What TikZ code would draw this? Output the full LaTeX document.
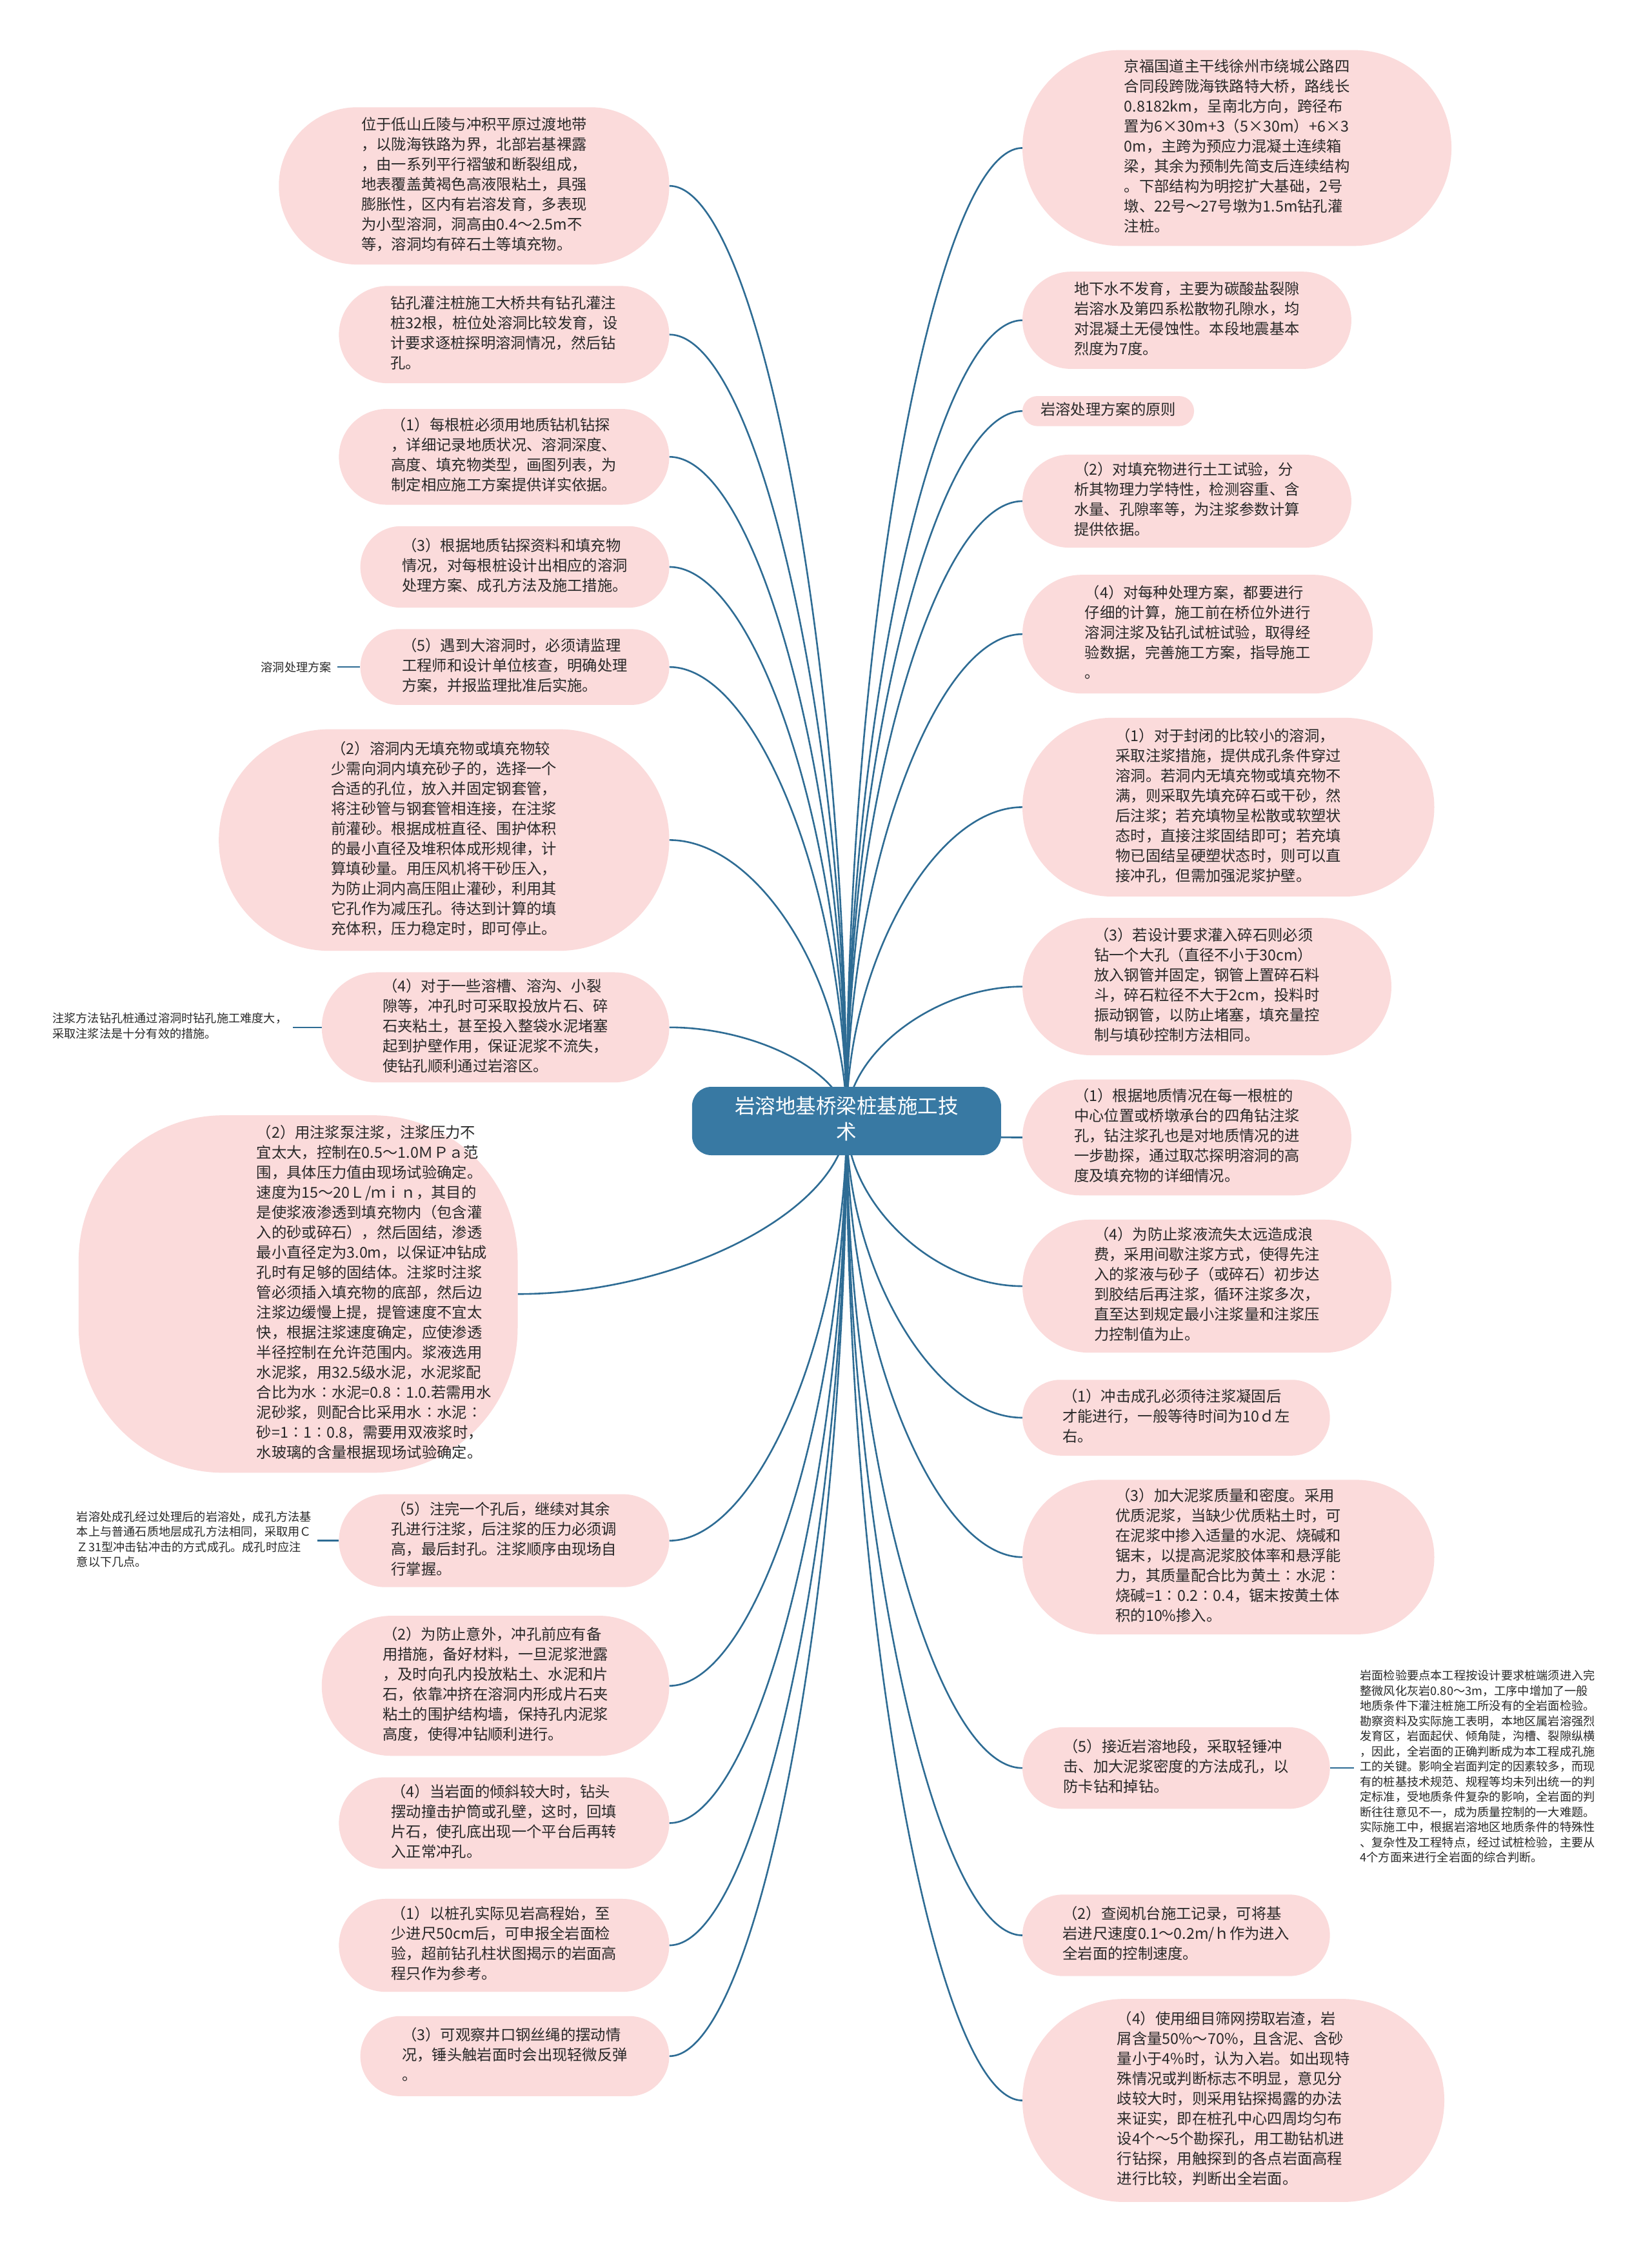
\documentclass[tikz,border=0pt]{standalone}
\usepackage{fontspec}
\setmainfont{Noto Sans CJK SC}
\usetikzlibrary{calc}
\pgfdeclarelayer{bg}
\pgfsetlayers{bg,main}
\definecolor{pinkfill}{RGB}{251,219,219}
\definecolor{linec}{RGB}{46,108,148}
\definecolor{ctrfill}{RGB}{56,121,163}
\definecolor{txt}{RGB}{40,40,40}
\newcommand\tb[1]{\begin{tabular}{@{}l@{}}#1\end{tabular}}
\newcommand\bub[7][0]{%
 \pgfmathsetmacro\ww{(#5-#3)*2.2165}%
 \pgfmathsetmacro\hh{(#6-#4)*2.2165}%
 \pgfmathsetmacro\rr{min(\hh/2-0.1,\ww*0.33)}%
 \pgfmathsetmacro\sh{2*#1*2.2165}%
 \node[bubble,minimum width=\ww pt,minimum height=\hh pt,rounded corners=\rr pt] (#2) at ({(#3+#5)/2},{(#4+#6)/2}) {\hspace*{\sh pt}\tb{#7}};}
\newcommand\cn[2]{\draw[conn] (ctr.center) .. controls ($(ctr.center)!0.5!(ctr.center |- #1.#2)$) and ($(ctr.center |- #1.#2)!0.5!(#1.#2)$) .. (#1.#2);}
\begin{document}
\begin{tikzpicture}[x=2.2165pt,y=-2.2165pt,
  bubble/.style={shape=rectangle,fill=pinkfill,draw=none,inner sep=0pt,font=\fontsize{23.3}{31}\selectfont,text=txt},
  lab/.style={inner sep=0pt,inner xsep=9pt,font=\fontsize{18.2}{23.5}\selectfont,text=txt},
  conn/.style={draw=linec,line width=2.6pt},
  ctrnode/.style={fill=ctrfill,text=white,rounded corners=30pt,inner sep=0pt,minimum width=479pt,minimum height=106pt,font=\fontsize{31.5}{40}\selectfont}]
\useasboundingbox (0,0) rectangle (1155,1568);
\node[ctrnode] (ctr) at (592,784) {\begin{tabular}{@{}c@{}}岩溶地基桥梁桩基施工技\\术\end{tabular}};
% left side
\bub{L1}{195}{75}{468}{185}{位于低山丘陵与冲积平原过渡地带\\，以陇海铁路为界，北部岩基裸露\\，由一系列平行褶皱和断裂组成，\\地表覆盖黄褐色高液限粘土，具强\\膨胀性，区内有岩溶发育，多表现\\为小型溶洞，洞高由0.4～2.5m不\\等，溶洞均有碎石土等填充物。}
\bub{L2}{237}{200}{468}{268}{钻孔灌注桩施工大桥共有钻孔灌注\\桩32根，桩位处溶洞比较发育，设\\计要求逐桩探明溶洞情况，然后钻\\孔。}
\bub{L3}{237}{286}{468}{353}{（1）每根桩必须用地质钻机钻探\\，详细记录地质状况、溶洞深度、\\高度、填充物类型，画图列表，为\\制定相应施工方案提供详实依据。}
\bub{L4}{252}{368}{468}{425}{（3）根据地质钻探资料和填充物\\情况，对每根桩设计出相应的溶洞\\处理方案、成孔方法及施工措施。}
\bub{L5}{252}{440}{468}{493}{（5）遇到大溶洞时，必须请监理\\工程师和设计单位核查，明确处理\\方案，并报监理批准后实施。}
\bub{L6}{153}{510}{468}{665}{（2）溶洞内无填充物或填充物较\\少需向洞内填充砂子的，选择一个\\合适的孔位，放入并固定钢套管，\\将注砂管与钢套管相连接，在注浆\\前灌砂。根据成桩直径、围护体积\\的最小直径及堆积体成形规律，计\\算填砂量。用压风机将干砂压入，\\为防止洞内高压阻止灌砂，利用其\\它孔作为减压孔。待达到计算的填\\充体积，压力稳定时，即可停止。}
\bub{L7}{225}{680}{468}{757}{（4）对于一些溶槽、溶沟、小裂\\隙等，冲孔时可采取投放片石、碎\\石夹粘土，甚至投入整袋水泥堵塞\\起到护壁作用，保证泥浆不流失，\\使钻孔顺利通过岩溶区。}
\bub[53]{L8}{55}{780}{362}{1030}{（2）用注浆泵注浆，注浆压力不\\宜太大，控制在0.5～1.0ＭＰａ范\\围，具体压力值由现场试验确定。\\速度为15～20Ｌ/ｍｉｎ，其目的\\是使浆液渗透到填充物内（包含灌\\入的砂或碎石），然后固结，渗透\\最小直径定为3.0m，以保证冲钻成\\孔时有足够的固结体。注浆时注浆\\管必须插入填充物的底部，然后边\\注浆边缓慢上提，提管速度不宜太\\快，根据注浆速度确定，应使渗透\\半径控制在允许范围内。浆液选用\\水泥浆，用32.5级水泥，水泥浆配\\合比为水∶水泥=0.8∶1.0.若需用水\\泥砂浆，则配合比采用水∶水泥∶\\砂=1∶1∶0.8，需要用双液浆时，\\水玻璃的含量根据现场试验确定。}
\bub{L9}{237}{1045}{468}{1110}{（5）注完一个孔后，继续对其余\\孔进行注浆，后注浆的压力必须调\\高，最后封孔。注浆顺序由现场自\\行掌握。}
\bub{L10}{225}{1130}{468}{1228}{（2）为防止意外，冲孔前应有备\\用措施，备好材料，一旦泥浆泄露\\，及时向孔内投放粘土、水泥和片\\石，依靠冲挤在溶洞内形成片石夹\\粘土的围护结构墙，保持孔内泥浆\\高度，使得冲钻顺利进行。}
\bub{L11}{237}{1243}{468}{1307}{（4）当岩面的倾斜较大时，钻头\\摆动撞击护筒或孔壁，这时，回填\\片石，使孔底出现一个平台后再转\\入正常冲孔。}
\bub{L12}{237}{1328}{468}{1393}{（1）以桩孔实际见岩高程始，至\\少进尺50cm后，可申报全岩面检\\验，超前钻孔柱状图揭示的岩面高\\程只作为参考。}
\bub{L13}{252}{1410}{468}{1466}{（3）可观察井口钢丝绳的摆动情\\况，锤头触岩面时会出现轻微反弹\\。}
% right side
\bub{R1}{715}{35}{1015}{172}{京福国道主干线徐州市绕城公路四\\合同段跨陇海铁路特大桥，路线长\\0.8182km，呈南北方向，跨径布\\置为6×30m+3（5×30m）+6×3\\0m，主跨为预应力混凝土连续箱\\梁，其余为预制先简支后连续结构\\。下部结构为明挖扩大基础，2号\\墩、22号～27号墩为1.5m钻孔灌\\注桩。}
\bub{R2}{715}{190}{945}{258}{地下水不发育，主要为碳酸盐裂隙\\岩溶水及第四系松散物孔隙水，均\\对混凝土无侵蚀性。本段地震基本\\烈度为7度。}
\bub{R3}{715}{277}{835}{298}{岩溶处理方案的原则}
\bub{R4}{715}{318}{945}{383}{（2）对填充物进行土工试验，分\\析其物理力学特性，检测容重、含\\水量、孔隙率等，为注浆参数计算\\提供依据。}
\bub{R5}{715}{402}{960}{485}{（4）对每种处理方案，都要进行\\仔细的计算，施工前在桥位外进行\\溶洞注浆及钻孔试桩试验，取得经\\验数据，完善施工方案，指导施工\\。}
\bub{R6}{715}{502}{1003}{627}{（1）对于封闭的比较小的溶洞，\\采取注浆措施，提供成孔条件穿过\\溶洞。若洞内无填充物或填充物不\\满，则采取先填充碎石或干砂，然\\后注浆；若充填物呈松散或软塑状\\态时，直接注浆固结即可；若充填\\物已固结呈硬塑状态时，则可以直\\接冲孔，但需加强泥浆护壁。}
\bub{R7}{715}{642}{973}{738}{（3）若设计要求灌入碎石则必须\\钻一个大孔（直径不小于30cm）\\放入钢管并固定，钢管上置碎石料\\斗，碎石粒径不大于2cm，投料时\\振动钢管，以防止堵塞，填充量控\\制与填砂控制方法相同。}
\bub{R8}{715}{755}{945}{836}{（1）根据地质情况在每一根桩的\\中心位置或桥墩承台的四角钻注浆\\孔，钻注浆孔也是对地质情况的进\\一步勘探，通过取芯探明溶洞的高\\度及填充物的详细情况。}
\bub{R9}{715}{853}{973}{946}{（4）为防止浆液流失太远造成浪\\费，采用间歇注浆方式，使得先注\\入的浆液与砂子（或碎石）初步达\\到胶结后再注浆，循环注浆多次，\\直至达到规定最小注浆量和注浆压\\力控制值为止。}
\bub{R10}{715}{965}{930}{1018}{（1）冲击成孔必须待注浆凝固后\\才能进行，一般等待时间为10ｄ左\\右。}
\bub{R11}{715}{1035}{1003}{1143}{（3）加大泥浆质量和密度。采用\\优质泥浆，当缺少优质粘土时，可\\在泥浆中掺入适量的水泥、烧碱和\\锯末，以提高泥浆胶体率和悬浮能\\力，其质量配合比为黄土∶水泥∶\\烧碱=1∶0.2∶0.4，锯末按黄土体\\积的10\%掺入。}
\bub{R12}{715}{1208}{930}{1265}{（5）接近岩溶地段，采取轻锤冲\\击、加大泥浆密度的方法成孔，以\\防卡钻和掉钻。}
\bub{R13}{715}{1325}{930}{1382}{（2）查阅机台施工记录，可将基\\岩进尺速度0.1～0.2m/ｈ作为进入\\全岩面的控制速度。}
\bub{R14}{715}{1398}{1010}{1540}{（4）使用细目筛网捞取岩渣，岩\\屑含量50\%～70\%，且含泥、含砂\\量小于4\%时，认为入岩。如出现特\\殊情况或判断标志不明显，意见分\\歧较大时，则采用钻探揭露的办法\\来证实，即在桩孔中心四周均匀布\\设4个～5个勘探孔，用工勘钻机进\\行钻探，用触探到的各点岩面高程\\进行比较，判断出全岩面。}
% side labels
\node[lab,anchor=east] (A1) at (236,466.5) {溶洞处理方案};
\node[lab,anchor=east] (A2) at (205,718.5) {\tb{注浆方法钻孔桩通过溶洞时钻孔施工难度大，\\采取注浆法是十分有效的措施。}};
\node[lab,anchor=east] (A3) at (222,1077.5) {\tb{岩溶处成孔经过处理后的岩溶处，成孔方法基\\本上与普通石质地层成孔方法相同，采取用Ｃ\\Ｚ31型冲击钻冲击的方式成孔。成孔时应注\\意以下几点。}};
\node[lab,anchor=west] (A4) at (947,1236.5) {\tb{岩面检验要点本工程按设计要求桩端须进入完\\整微风化灰岩0.80～3m，工序中增加了一般\\地质条件下灌注桩施工所没有的全岩面检验。\\勘察资料及实际施工表明，本地区属岩溶强烈\\发育区，岩面起伏、倾角陡，沟槽、裂隙纵横\\，因此，全岩面的正确判断成为本工程成孔施\\工的关键。影响全岩面判定的因素较多，而现\\有的桩基技术规范、规程等均未列出统一的判\\定标准，受地质条件复杂的影响，全岩面的判\\断往往意见不一，成为质量控制的一大难题。\\实际施工中，根据岩溶地区地质条件的特殊性\\、复杂性及工程特点，经过试桩检验，主要从\\4个方面来进行全岩面的综合判断。}};
\begin{pgfonlayer}{bg}
\fill[white] (0,0) rectangle (1155,1568);
\foreach \n in {L1,L2,L3,L4,L5,L6,L7,L8,L9,L10,L11,L12,L13} {\cn{\n}{east}}
\foreach \n in {R1,R2,R3,R4,R5,R6,R7,R8,R9,R10,R11,R12,R13,R14} {\cn{\n}{west}}
\draw[conn] (A1.east) -- (L5.west);
\draw[conn] (A2.east) -- (L7.west);
\draw[conn] (A3.east) -- (L9.west);
\draw[conn] (R12.east) -- (A4.west);
\end{pgfonlayer}
\end{tikzpicture}
\end{document}
